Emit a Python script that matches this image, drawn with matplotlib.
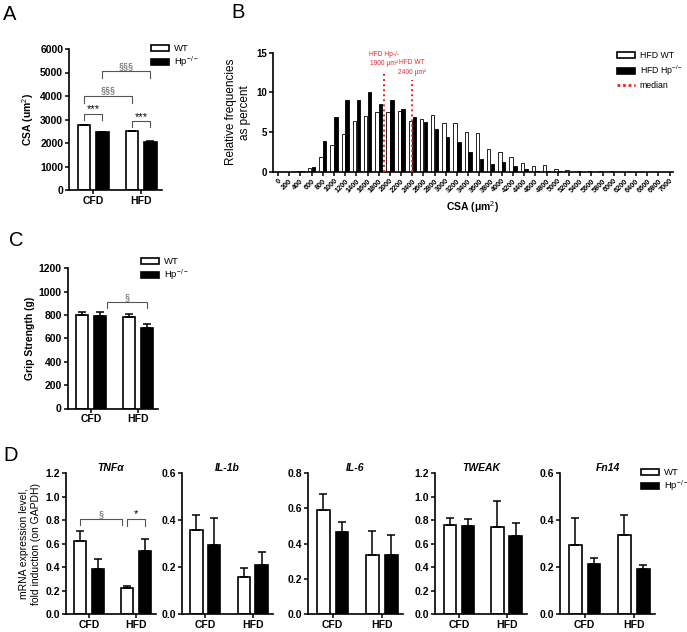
import matplotlib
matplotlib.use("Agg")
import matplotlib.pyplot as plt
from matplotlib.patches import Patch
from matplotlib.lines import Line2D
import numpy as np

plt.rcParams["font.family"] = ["Liberation Sans", "DejaVu Sans"]
plt.rcParams["mathtext.fontset"] = "custom"
plt.rcParams["mathtext.rm"] = "Liberation Sans"
plt.rcParams["mathtext.it"] = "Liberation Sans:italic"
plt.rcParams["mathtext.bf"] = "Liberation Sans:bold"

W, H = 687, 632

# panel A: fibre cross-sectional area
diets = ["CFD", "HFD"]
csa_wt = [2750, 2495]
csa_wt_err = [25, 25]
csa_hp = [2465, 2062]
csa_hp_err = [20, 15]

# panel B: CSA distribution, HFD mice
csa_bins = [0, 200, 400, 600, 800, 1000, 1200, 1400, 1600, 1800, 2000, 2200,
            2400, 2600, 2800, 3000, 3200, 3400, 3600, 3800, 4000, 4200, 4400,
            4600, 4800, 5000, 5200, 5400, 5600, 5800, 6000, 6200, 6400, 6600,
            6800, 7000]
hfd_wt_freq = [0, 0, 0.1, 0.45, 1.9, 3.4, 4.7, 6.4, 7.0, 7.5, 7.5, 7.7,
               6.4, 6.6, 7.1, 6.2, 6.1, 5.0, 4.9, 2.9, 2.5, 1.9, 1.1, 0.7,
               0.85, 0.4, 0.2, 0.05, 0.1, 0.03, 0.03, 0, 0, 0, 0, 0]
hfd_hp_freq = [0, 0, 0.15, 0.55, 3.9, 6.9, 9.1, 9.0, 10.0, 8.5, 9.1, 7.9,
               6.9, 6.3, 5.4, 4.4, 3.8, 2.5, 1.6, 1.0, 1.2, 0.7, 0.4, 0.15,
               0.1, 0.1, 0.02, 0, 0, 0, 0, 0, 0, 0, 0, 0]
median_hp = 1900
median_wt = 2400

# panel C: grip strength
grip_wt = [803, 780]
grip_wt_err = [27, 26]
grip_hp = [794, 691]
grip_hp_err = [29, 31]

# panel D: mRNA expression
genes = ["TNFα", "IL-1b", "IL-6", "TWEAK", "Fn14"]
gene_ymax = [1.2, 0.6, 0.8, 1.2, 0.6]
mrna_wt = [[0.62, 0.22], [0.36, 0.158], [0.59, 0.335], [0.763, 0.746], [0.296, 0.337]]
mrna_wt_err = [[0.085, 0.02], [0.063, 0.037], [0.09, 0.135], [0.06, 0.217], [0.115, 0.087]]
mrna_hp = [[0.383, 0.54], [0.294, 0.21], [0.465, 0.335], [0.749, 0.662], [0.214, 0.19]]
mrna_hp_err = [[0.083, 0.103], [0.115, 0.053], [0.06, 0.115], [0.065, 0.11], [0.023, 0.021]]

fig = plt.figure(figsize=(W / 100, H / 100), dpi=100)


def axpx(l, t, r, b):
    return fig.add_axes([l / W, 1 - b / H, (r - l) / W, (b - t) / H])


def style(ax, fs=7.5):
    for s in ["top", "right"]:
        ax.spines[s].set_visible(False)
    for s in ["left", "bottom"]:
        ax.spines[s].set_linewidth(1.2)
    ax.tick_params(direction="out", length=3, width=1.1, labelsize=fs, pad=1.2)
    for lab in ax.get_xticklabels() + ax.get_yticklabels():
        lab.set_fontweight("bold")


def grouped_bars(ax, wt, wt_err, hp, hp_err):
    x = np.arange(len(diets))
    off, bw = 0.19, 0.26
    ax.bar(x - off, wt, bw, color="white", edgecolor="black", linewidth=1.2, zorder=2)
    ax.bar(x + off, hp, bw, color="black", edgecolor="black", linewidth=1.2, zorder=2)
    ax.errorbar(x - off, wt, yerr=[np.zeros(2), wt_err], fmt="none", ecolor="black",
                elinewidth=1.1, capsize=3, capthick=1.1, zorder=3)
    ax.errorbar(x + off, hp, yerr=[np.zeros(2), hp_err], fmt="none", ecolor="black",
                elinewidth=1.1, capsize=3, capthick=1.1, zorder=3)
    ax.set_xticks(x)
    ax.set_xticklabels(diets)
    ax.set_xlim(-0.5, 1.43)


def bracket(ax, x0, x1, y, leg, text, color="#555555", fs=7, tcol=None, dy=0):
    ax.plot([x0, x0, x1, x1], [y - leg, y, y, y - leg], color=color, lw=0.8, clip_on=False)
    ax.text((x0 + x1) / 2, y + dy, text, ha="center", va="bottom", fontsize=fs,
            color=tcol or color, clip_on=False)


def box_legend(ax, labels, x, y, fs=6.8):
    handles = [Patch(facecolor="white", edgecolor="black", linewidth=1.2),
               Patch(facecolor="black", edgecolor="black", linewidth=1.2)]
    ax.legend(handles, labels, loc="upper left", bbox_to_anchor=(x / W, 1 - y / H),
              bbox_transform=fig.transFigure, frameon=False, fontsize=fs,
              handlelength=1.9, handleheight=0.55, labelspacing=0.2,
              handletextpad=0.5, borderaxespad=0, borderpad=0)


hp_label = "Hp$^{-/-}$"

# ---- A
axA = axpx(69, 49, 162, 190)
grouped_bars(axA, csa_wt, csa_wt_err, csa_hp, csa_hp_err)
axA.set_ylim(0, 6000)
axA.set_yticks(range(0, 6001, 1000))
axA.set_ylabel("CSA (um$^2$)", fontsize=7.5, fontweight="bold", labelpad=3)
style(axA)
bracket(axA, -0.19, 0.19, 3250, 250, "***", tcol="black", fs=8, dy=-30)
bracket(axA, 0.81, 1.19, 2930, 230, "***", tcol="black", fs=8, dy=-30)
bracket(axA, -0.19, 0.81, 4020, 310, "§§§", fs=6.5)
bracket(axA, 0.19, 1.19, 5060, 280, "§§§", fs=6.5)
box_legend(axA, ["WT", hp_label], 151, 44)

# ---- B
axB = axpx(273, 52.7, 673, 171.7)
xb = np.arange(len(csa_bins))
axB.bar(xb - 0.17, hfd_wt_freq, 0.3, color="white", edgecolor="black", linewidth=0.6, zorder=2)
axB.bar(xb + 0.17, hfd_hp_freq, 0.3, color="black", edgecolor="black", linewidth=0.6, zorder=2)
red = "#e8262a"
for med, top, lab in [(median_hp, 12.6, "HFD Hp-/-\n1900 μm²"), (median_wt, 11.55, "HFD WT\n2400 μm²")]:
    axB.plot([med / 200, med / 200], [0, top], color=red, lw=1.4, ls=(0, (1, 1.6)), zorder=4)
    axB.text(med / 200, top + 0.55, lab, color=red, fontsize=4.8, ha="center", va="bottom",
             linespacing=1.45)
axB.set_xlim(-0.45, 35.3)
axB.set_ylim(0, 15)
axB.set_yticks([0, 5, 10, 15])
axB.set_xticks(xb)
axB.set_xticklabels([str(v) for v in csa_bins], rotation=45, ha="right",
                    rotation_mode="anchor")
axB.set_xlabel("CSA (μm$^2$)", fontsize=7.5, fontweight="bold", labelpad=4)
axB.set_ylabel("Relative frequencies\nas percent", fontsize=8.5, labelpad=4)
style(axB, fs=7)
for lab in axB.get_xticklabels():
    lab.set_fontsize(5.3)
handles = [Patch(facecolor="white", edgecolor="black", linewidth=1.2),
           Patch(facecolor="black", edgecolor="black", linewidth=1.2),
           Line2D([0], [0], color=red, lw=2, ls=(0, (1, 1)))]
axB.legend(handles, ["HFD WT", "HFD " + hp_label, "median"], loc="upper left",
           bbox_to_anchor=(617 / W, 1 - 51 / H), bbox_transform=fig.transFigure,
           frameon=False, fontsize=6.3, handlelength=2.1, handleheight=0.6,
           labelspacing=0.4, handletextpad=0.5, borderaxespad=0, borderpad=0)

# ---- C
axC = axpx(67.7, 268.3, 158, 408.5)
grouped_bars(axC, grip_wt, grip_wt_err, grip_hp, grip_hp_err)
axC.set_ylim(0, 1200)
axC.set_yticks(range(0, 1201, 200))
axC.set_ylabel("Grip Strength (g)", fontsize=7.5, fontweight="bold", labelpad=3)
style(axC)
bracket(axC, 0.35, 1.19, 914, 57, "§", fs=6.5)
box_legend(axC, ["WT", hp_label], 141, 257)

# ---- D
d_pos = [(65.7, 156), (181.7, 273), (308, 403), (435, 527), (560, 655)]
for i, gene in enumerate(genes):
    l, r = d_pos[i]
    ax = axpx(l, 473.3, r, 614)
    grouped_bars(ax, mrna_wt[i], mrna_wt_err[i], mrna_hp[i], mrna_hp_err[i])
    ymax = gene_ymax[i]
    ticks = np.arange(0, ymax + 1e-9, 0.2)
    ax.set_ylim(0, ymax)
    ax.set_yticks(ticks)
    ax.set_yticklabels([f"{v:.1f}" for v in ticks])
    ax.set_title(gene, fontsize=7.5, fontweight="bold", style="italic", pad=-3)
    style(ax)
    if i == 0:
        ax.set_ylabel("mRNA expression level,\nfold induction (on GAPDH)", fontsize=7.5,
                      labelpad=3)
        bracket(ax, -0.19, 0.7, 0.81, 0.055, "§", fs=6.5)
        bracket(ax, 0.81, 1.19, 0.81, 0.06, "*", tcol="black", fs=8)
    if i == 4:
        box_legend(ax, ["WT", hp_label], 641, 468)

# panel letters
for lab, x, y in [("A", 3, 20), ("B", 231, 18), ("C", 9, 246), ("D", 3, 461)]:
    fig.text(x / W, 1 - y / H, lab, fontsize=14.5, ha="left", va="baseline")

fig.savefig("out.png", dpi=100)
